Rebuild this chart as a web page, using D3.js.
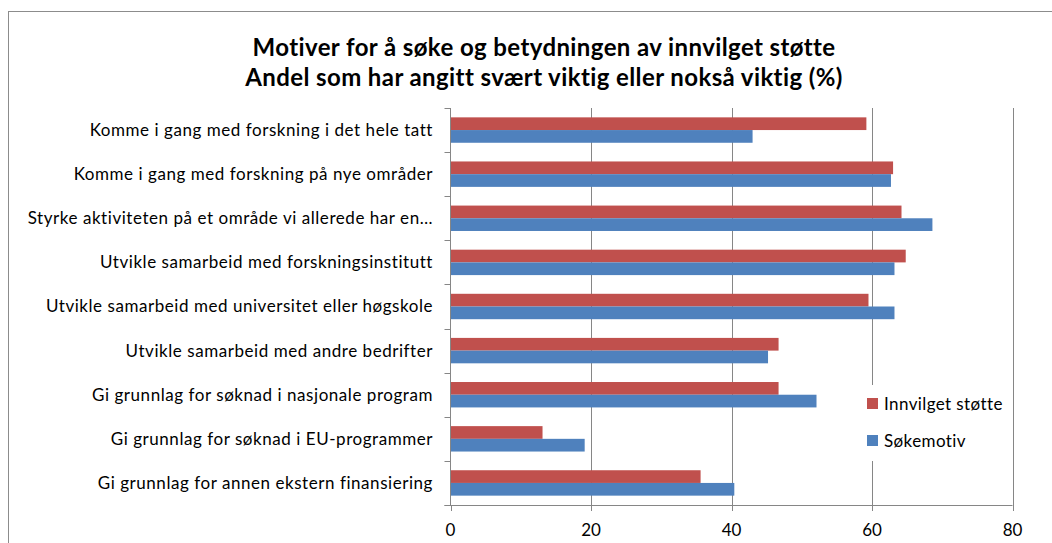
<!DOCTYPE html>
<html>
<head>
<meta charset="utf-8">
<script src="https://cdn.jsdelivr.net/npm/d3@7"></script>
<style>
  body { margin: 0; background: #fff; }
  text { font-family: Lato, "Liberation Sans", sans-serif; fill: #000; }
</style>
</head>
<body>
<svg id="chart" width="1052" height="543"></svg>
<script>
var categories = [
    "Komme i gang med forskning i det hele tatt",
    "Komme i gang med forskning på nye områder",
    "Styrke aktiviteten på et område vi allerede har en…",
    "Utvikle samarbeid med forskningsinstitutt",
    "Utvikle samarbeid med universitet eller høgskole",
    "Utvikle samarbeid med andre bedrifter",
    "Gi grunnlag for søknad i nasjonale program",
    "Gi grunnlag for søknad i EU-programmer",
    "Gi grunnlag for annen ekstern finansiering"
];
var innvilgetStotte = [59.2, 63.0, 64.2, 64.8, 59.5, 46.7, 46.7, 13.1, 35.6];
var sokemotiv = [43.0, 62.7, 68.6, 63.2, 63.2, 45.2, 52.1, 19.1, 40.4];
var seriesNames = ["Innvilget støtte", "Søkemotiv"];
var seriesColours = ["#C0504D", "#4F81BD"];
var xTicks = [0, 20, 40, 60, 80];
var titleLines = [
    "Motiver for å søke og betydningen av innvilget støtte",
    "Andel som har angitt svært viktig eller nokså viktig (%)"
];

var svg = d3.select("#chart");
var plot = { left: 450.5, right: 1012.5, top: 108, bottom: 505 };
var axisColour = "#868686";

// chart area frame (only top and left edges fall inside the picture)
svg.append("rect")
    .attr("x", 8.5).attr("y", 11.5)
    .attr("width", 1100).attr("height", 600)
    .attr("fill", "#fff")
    .attr("stroke", "#8c8c8c");

var x = d3.scaleLinear().domain([0, 80]).range([plot.left, plot.right]);
var y = d3.scaleBand().domain(categories).range([plot.top, plot.bottom]);
var inner = d3.scaleBand().domain(seriesNames)
    .range([0, y.bandwidth()])
    .paddingInner(0).paddingOuter(0.736);

// title
svg.selectAll(".title")
    .data(titleLines)
  .enter()
    .append("text")
    .attr("class", "title")
    .attr("x", 544)
    .attr("y", function(d, i) { return 56 + i * 30; })
    .attr("text-anchor", "middle")
    .attr("font-size", 24)
    .attr("font-weight", "bold")
    .attr("letter-spacing", 0.4)
    .text(function(d) { return d; });

// vertical gridlines
svg.selectAll(".grid")
    .data(xTicks.slice(1))
  .enter()
    .append("line")
    .attr("class", "grid")
    .attr("x1", function(d) { return Math.round(x(d)) + 0.5; })
    .attr("x2", function(d) { return Math.round(x(d)) + 0.5; })
    .attr("y1", plot.top).attr("y2", plot.bottom)
    .attr("stroke", axisColour);

// bars
var rows = svg.selectAll(".row")
    .data(categories)
  .enter()
    .append("g")
    .attr("class", "row")
    .attr("transform", function(d) { return "translate(0," + y(d) + ")"; });

rows.each(function(cat, i) {
    var vals = [innvilgetStotte[i], sokemotiv[i]];
    d3.select(this).selectAll("rect")
        .data(vals)
      .enter()
        .append("rect")
        .attr("x", x(0))
        .attr("y", function(d, j) { return inner(seriesNames[j]); })
        .attr("width", function(d) { return x(d) - x(0); })
        .attr("height", inner.bandwidth())
        .attr("fill", function(d, j) { return seriesColours[j]; });
});

// y axis
var yAxis = svg.append("g");
yAxis.append("line")
    .attr("x1", plot.left).attr("x2", plot.left)
    .attr("y1", plot.top).attr("y2", plot.bottom)
    .attr("stroke", axisColour);
var bounds = categories.map(function(d) { return y(d); }).concat([plot.bottom]);
yAxis.selectAll(".ytick")
    .data(bounds)
  .enter()
    .append("line")
    .attr("x1", plot.left - 6).attr("x2", plot.left)
    .attr("y1", function(d) { return Math.round(d) + 0.5; })
    .attr("y2", function(d) { return Math.round(d) + 0.5; })
    .attr("stroke", axisColour);
yAxis.selectAll(".ylabel")
    .data(categories)
  .enter()
    .append("text")
    .attr("x", 433)
    .attr("y", function(d) { return y(d) + y.bandwidth() / 2; })
    .attr("dy", "0.35em")
    .attr("text-anchor", "end")
    .attr("font-size", 17)
    .attr("letter-spacing", 0.55)
    .text(function(d) { return d; });

// x axis
var xAxis = svg.append("g");
xAxis.append("line")
    .attr("x1", plot.left - 6).attr("x2", plot.right)
    .attr("y1", plot.bottom + 0.5).attr("y2", plot.bottom + 0.5)
    .attr("stroke", axisColour);
xAxis.selectAll(".xtick")
    .data(xTicks)
  .enter()
    .append("line")
    .attr("x1", function(d) { return Math.round(x(d)) + 0.5; })
    .attr("x2", function(d) { return Math.round(x(d)) + 0.5; })
    .attr("y1", plot.bottom).attr("y2", plot.bottom + 6)
    .attr("stroke", axisColour);
xAxis.selectAll(".xlabel")
    .data(xTicks)
  .enter()
    .append("text")
    .attr("x", function(d) { return x(d); })
    .attr("y", 530)
    .attr("dy", "0.35em")
    .attr("text-anchor", "middle")
    .attr("font-size", 17)
    .text(function(d) { return d; });

// legend
var legend = svg.append("g").attr("transform", "translate(858,385)");
legend.append("rect")
    .attr("width", 150).attr("height", 76)
    .attr("fill", "#fff");
var items = legend.selectAll(".item")
    .data(seriesNames)
  .enter()
    .append("g")
    .attr("transform", function(d, i) { return "translate(9," + (19 + i * 37) + ")"; });
items.append("rect")
    .attr("x", 0).attr("y", -6)
    .attr("width", 11).attr("height", 11)
    .attr("fill", function(d, i) { return seriesColours[i]; });
items.append("text")
    .attr("x", 17)
    .attr("dy", "0.35em")
    .attr("font-size", 17)
    .attr("letter-spacing", 0.4)
    .text(function(d) { return d; });
</script>
</body>
</html>
